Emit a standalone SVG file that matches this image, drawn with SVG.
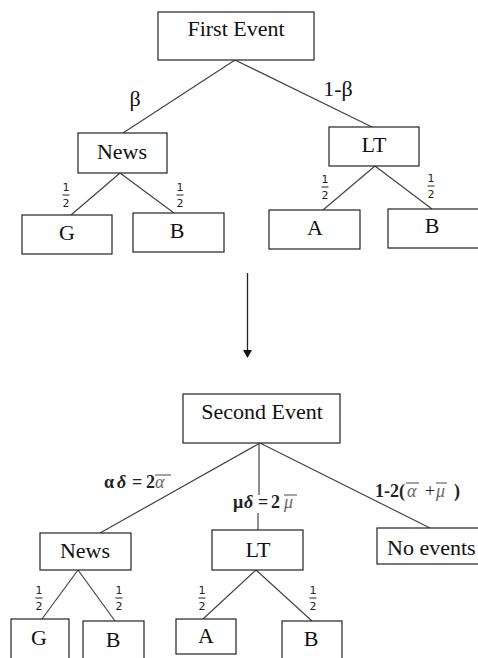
<svg xmlns="http://www.w3.org/2000/svg" width="478" height="658" viewBox="0 0 478 658">
<defs>
<style>
.box{fill:#fff;stroke:#222;stroke-width:1.2}
.lbl{font-family:"Liberation Serif","Times New Roman",serif;font-size:22px;fill:#111;text-anchor:middle}
.frac{font-family:"DejaVu Sans","Noto Sans",sans-serif;font-size:11px;fill:#222;text-anchor:middle}
.fbar{stroke:#222;stroke-width:1}
.edge{stroke:#444;stroke-width:1.2;fill:none}
.math{font-family:"Liberation Serif","Times New Roman",serif;font-size:18px;font-weight:bold;fill:#222}
.mv{font-style:italic;font-weight:normal;fill:#666}
.ov{stroke:#666;stroke-width:1.2}
</style>
</defs>
<rect width="478" height="658" fill="#fff"/>
<g id="connectors">
<line class="edge" x1="235" y1="60" x2="123" y2="133"/>
<line class="edge" x1="235" y1="60" x2="372" y2="127"/>
<line class="edge" x1="120" y1="173" x2="71" y2="215"/>
<line class="edge" x1="120" y1="173" x2="174" y2="213"/>
<line class="edge" x1="375" y1="166" x2="323" y2="210"/>
<line class="edge" x1="375" y1="166" x2="432" y2="209"/>
<line x1="247.5" y1="273" x2="247.5" y2="351" stroke="#222" stroke-width="1.3"/>
<path d="M243,350 L252,350 L247.5,358 Z" fill="#111"/>
<line class="edge" x1="260" y1="443" x2="100" y2="533"/>
<line class="edge" x1="259" y1="443" x2="259" y2="495"/>
<line class="edge" x1="258" y1="513" x2="258" y2="530"/>
<line class="edge" x1="260" y1="443" x2="430" y2="528"/>
<line class="edge" x1="78" y1="570" x2="42" y2="619"/>
<line class="edge" x1="78" y1="570" x2="115" y2="621"/>
<line class="edge" x1="256" y1="570" x2="203" y2="619"/>
<line class="edge" x1="256" y1="570" x2="312" y2="621"/>
</g>
<g id="edge-labels">
<text class="lbl" x="135" y="106">β</text>
<text class="lbl" x="338" y="96">1-β</text>
<g><text class="frac" x="66" y="191">1</text><line class="fbar" x1="62.5" y1="195" x2="69.5" y2="195"/><text class="frac" x="66" y="207">2</text></g>
<g><text class="frac" x="180" y="191">1</text><line class="fbar" x1="176.5" y1="195" x2="183.5" y2="195"/><text class="frac" x="180" y="207">2</text></g>
<g><text class="frac" x="325" y="183">1</text><line class="fbar" x1="321.5" y1="187" x2="328.5" y2="187"/><text class="frac" x="325" y="199">2</text></g>
<g><text class="frac" x="431" y="182">1</text><line class="fbar" x1="427.5" y1="186" x2="434.5" y2="186"/><text class="frac" x="431" y="198">2</text></g>
<g><text class="frac" x="39" y="594">1</text><line class="fbar" x1="35.5" y1="598" x2="42.5" y2="598"/><text class="frac" x="39" y="610">2</text></g>
<g><text class="frac" x="119" y="594">1</text><line class="fbar" x1="115.5" y1="598" x2="122.5" y2="598"/><text class="frac" x="119" y="610">2</text></g>
<g><text class="frac" x="202" y="594">1</text><line class="fbar" x1="198.5" y1="598" x2="205.5" y2="598"/><text class="frac" x="202" y="610">2</text></g>
<g><text class="frac" x="313" y="594">1</text><line class="fbar" x1="309.5" y1="598" x2="316.5" y2="598"/><text class="frac" x="313" y="610">2</text></g>
<g id="lbl-alpha">
<text class="math" y="488"><tspan x="104">α</tspan><tspan x="117" font-style="italic">δ</tspan><tspan x="132">=</tspan><tspan x="146">2</tspan><tspan x="155" class="mv">α</tspan></text>
<line class="ov" x1="155" y1="475" x2="171" y2="475"/>
</g>
<g id="lbl-mu">
<text class="math" y="508"><tspan x="233">μ</tspan><tspan x="244" font-style="italic">δ</tspan><tspan x="258">=</tspan><tspan x="271">2</tspan><tspan x="284" class="mv">μ</tspan></text>
<line class="ov" x1="284" y1="495" x2="297" y2="495"/>
</g>
<g id="lbl-none">
<text class="math" y="497"><tspan x="375">1-2(</tspan><tspan x="407" class="mv">α</tspan><tspan x="425" font-weight="normal">+</tspan><tspan x="436" class="mv">μ</tspan><tspan x="454">)</tspan></text>
<line class="ov" x1="406" y1="483" x2="419" y2="483"/>
<line class="ov" x1="436" y1="483" x2="447" y2="483"/>
</g>
</g>
<g id="first-event"><rect class="box" x="158" y="12" width="156" height="48"/><text class="lbl" x="236" y="36">First Event</text></g>
<g id="news1"><rect class="box" x="78" y="133" width="89" height="40"/><text class="lbl" x="122" y="159">News</text></g>
<g id="lt1"><rect class="box" x="329" y="127" width="90" height="39"/><text class="lbl" x="374" y="152">LT</text></g>
<g id="g1"><rect class="box" x="22" y="215" width="90" height="39"/><text class="lbl" x="67" y="240">G</text></g>
<g id="b1"><rect class="box" x="133" y="213" width="91" height="39"/><text class="lbl" x="177" y="238">B</text></g>
<g id="a1"><rect class="box" x="269" y="210" width="91" height="39"/><text class="lbl" x="315" y="235">A</text></g>
<g id="b2"><rect class="box" x="388" y="209" width="95" height="39"/><text class="lbl" x="432" y="233">B</text></g>
<g id="second-event"><rect class="box" x="183" y="394" width="157" height="49"/><text class="lbl" x="262" y="419">Second Event</text></g>
<g id="news2"><rect class="box" x="40" y="533" width="91" height="37"/><text class="lbl" x="85" y="558">News</text></g>
<g id="lt2"><rect class="box" x="212" y="530" width="91" height="40"/><text class="lbl" x="258" y="557">LT</text></g>
<g id="no-events"><rect class="box" x="377" y="528" width="110" height="36"/><text class="lbl" x="387" y="555" style="text-anchor:start">No events</text></g>
<g id="g2"><rect class="box" x="11" y="619" width="58" height="45"/><text class="lbl" x="39" y="645">G</text></g>
<g id="b3"><rect class="box" x="83" y="621" width="61" height="45"/><text class="lbl" x="113" y="647">B</text></g>
<g id="a2"><rect class="box" x="176" y="619" width="60" height="35"/><text class="lbl" x="206" y="643">A</text></g>
<g id="b4"><rect class="box" x="282" y="621" width="60" height="45"/><text class="lbl" x="311" y="646">B</text></g>
</svg>
